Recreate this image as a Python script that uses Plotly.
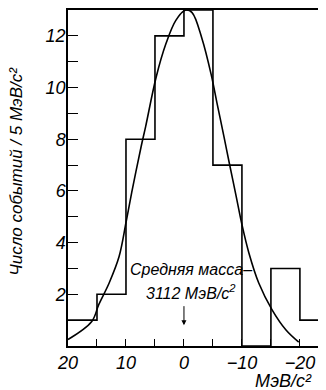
import plotly.graph_objects as go

# Histogram: bin edges (MeV/c^2, axis reversed) and counts per 5 MeV/c^2 bin
bin_edges = [20, 15, 10, 5, 0, -5, -10, -15, -20, -25]
counts = [1, 2, 8, 12, 13, 7, 0, 3, 1]

# Fitted curve
curve_x = [20, 15.9, 14.7, 12.9, 11.2, 10.0, 9.0, 7.4, 6.6, 4.8, 3.1, 1.4, -0.3,
           -1.4, -3.1, -4.7, -5.7, -6.9, -7.8, -9.0, -10.0, -11.2, -12.9, -15.2,
           -17.6, -19.8]
curve_y = [0.25, 0.95, 1.6, 2.44, 3.45, 4.77, 5.95, 7.7, 8.5, 10.4, 11.7, 12.6, 13.0,
           12.9, 11.9, 10.5, 9.4, 8.1, 7.1, 5.8, 4.7, 3.6, 2.44, 1.4,
           0.62, 0.15]

x_ticks = [20, 10, 0, -10, -20]
x_tick_labels = ["20", "10", "0", "−10", "−20"]
y_ticks = [2, 4, 6, 8, 10, 12]
y_tick_labels = ["2", "4", "6", "8", "10", "12"]

step_y = counts + [counts[-1]]

font_family = "Liberation Sans Narrow, Liberation Sans, DejaVu Sans"


def ital(size):
    return dict(family=font_family, size=size, color="black", style="italic")


fig = go.Figure()
fig.add_trace(go.Scatter(x=bin_edges, y=step_y, mode="lines",
                         line=dict(shape="hv", color="black", width=1.6),
                         hoverinfo="skip"))
fig.add_trace(go.Scatter(x=curve_x, y=curve_y, mode="lines",
                         line=dict(shape="spline", color="black", width=1.6),
                         hoverinfo="skip"))

x_all = list(range(20, -26, -5))
y_all = list(range(0, 14))

fig.update_layout(
    width=318, height=382,
    margin=dict(l=60, r=0, t=2, b=44),
    paper_bgcolor="white", plot_bgcolor="white",
    showlegend=False,
    xaxis=dict(range=[20, -24.5], showgrid=False, zeroline=False,
               showline=True, linecolor="black", linewidth=1.5, mirror=True,
               ticks="inside", ticklen=7, tickcolor="black", tickwidth=1,
               tickmode="array", tickvals=x_all,
               ticktext=[x_tick_labels[x_ticks.index(v)] if v in x_ticks else "" for v in x_all],
               tickfont=ital(18)),
    yaxis=dict(range=[0, 13], showgrid=False, zeroline=False,
               showline=True, linecolor="black", linewidth=1.5,
               ticks="inside", ticklen=10, tickcolor="black", tickwidth=1,
               tickmode="array", tickvals=y_all,
               ticktext=[y_tick_labels[y_ticks.index(v)] if v in y_ticks else "" for v in y_all],
               ticklabelstandoff=-3,
               tickfont=ital(18)),
)

fig.add_annotation(x=-1.2, y=2.95, text="Средняя масса–", showarrow=False,
                   font=ital(16))
fig.add_annotation(x=-1.2, y=2.1, text="3112 МэВ/с<sup>2</sup>", showarrow=False,
                   font=ital(16))
fig.add_annotation(x=0, y=0.8, ax=0, ay=1.6, axref="x", ayref="y", text="",
                   showarrow=True, arrowhead=2, arrowsize=1, arrowwidth=1, arrowcolor="black")
fig.add_annotation(xref="paper", yref="paper", x=-0.2, y=0.52, textangle=-90,
                   xanchor="center", yanchor="middle",
                   text="Число событий / 5 МэВ/с²", showarrow=False,
                   font=ital(17))
fig.add_annotation(x=-17.2, xref="x", yref="paper", y=-0.103, yanchor="middle",
                   text="МэВ/с²", showarrow=False,
                   font=ital(18))

fig.write_html("out.html")
